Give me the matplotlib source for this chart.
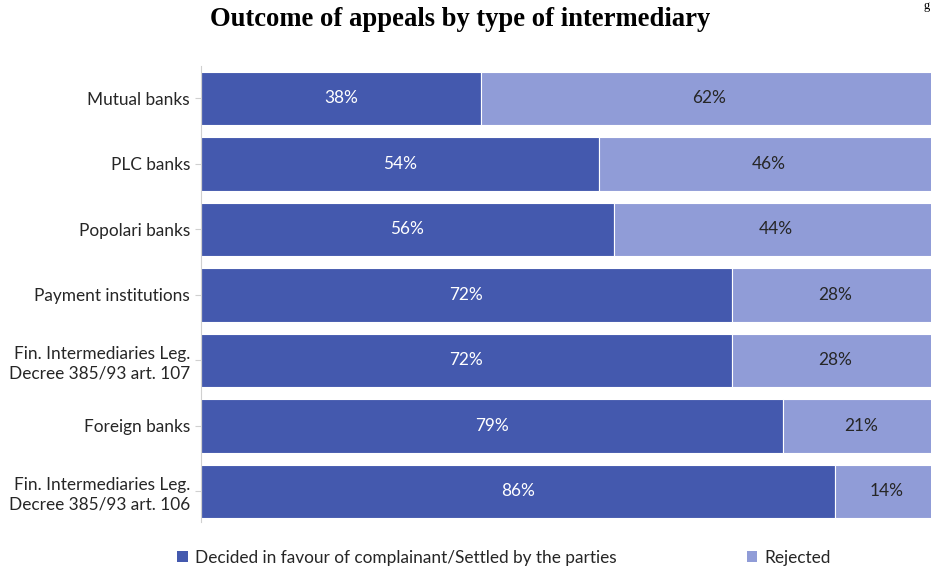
import numpy as np
import matplotlib
matplotlib.use("Agg")
import matplotlib.pyplot as plt
from matplotlib.patches import Patch

categories = [
    "Mutual banks",
    "PLC banks",
    "Popolari banks",
    "Payment institutions",
    "Fin. Intermediaries Leg.\nDecree 385/93 art. 107",
    "Foreign banks",
    "Fin. Intermediaries Leg.\nDecree 385/93 art. 106",
]
favour = [38, 54, 56, 72, 72, 79, 86]
rejected = [62, 46, 44, 28, 28, 21, 14]
series_names = ["Decided in favour of complainant/Settled by the parties", "Rejected"]

DARK, LIGHT = "#4459AE", "#909CD7"
TXT = "#262626"
SANS = ["Lato", "DejaVu Sans"]
FS = 12.4

fig = plt.figure(figsize=(9.31, 5.72), dpi=100)
W, H = 931, 572
# plot area runs a little past the right edge of the figure
ax = fig.add_axes([201 / W, 1 - 522 / H, (938 - 201) / W, (522 - 66) / H])

y = np.arange(len(categories))
ax.barh(y, favour, height=0.81, color=DARK, edgecolor="white", linewidth=0.8)
ax.barh(y, rejected, left=favour, height=0.81, color=LIGHT,
        edgecolor="white", linewidth=0.8)

for yi, f, r in zip(y, favour, rejected):
    ax.text(f / 2, yi, f"{f}%", ha="center", va="center", color="white",
            fontsize=FS, family=SANS)
    ax.text(f + r / 2, yi, f"{r}%", ha="center", va="center", color=TXT,
            fontsize=FS, family=SANS)

ax.set_xlim(0, 100)
ax.set_ylim(len(categories) - 1 + 0.466, -0.496)
ax.set_yticks(y)
ax.set_yticklabels(categories, fontsize=FS, family=SANS, color=TXT,
                   ha="right", linespacing=1.3)
ax.set_xticks([])
for s in ("top", "right", "bottom"):
    ax.spines[s].set_visible(False)
ax.spines["left"].set_color("#d0d0d0")
ax.tick_params(axis="y", length=4, color="#d0d0d0", pad=4)

fig.text(460 / W, 1 - 20 / H, "Outcome of appeals by type of intermediary",
         ha="center", va="center", fontsize=19.2, fontweight="bold",
         family="Liberation Serif", color="black")
fig.text(930 / W, 1.0, "g", ha="right", va="top", fontsize=9,
         family="Liberation Serif", color="black")

handles = [Patch(facecolor=DARK), Patch(facecolor=LIGHT)]
fig.legend(handles, series_names, loc="center", ncol=2,
           bbox_to_anchor=(504 / W, 1 - 558 / H), frameon=False,
           prop={"family": SANS, "size": FS}, handlelength=0.6,
           handleheight=0.6, handletextpad=0.4, columnspacing=7.6,
           labelcolor=TXT)

fig.savefig("out.png", dpi=100)
